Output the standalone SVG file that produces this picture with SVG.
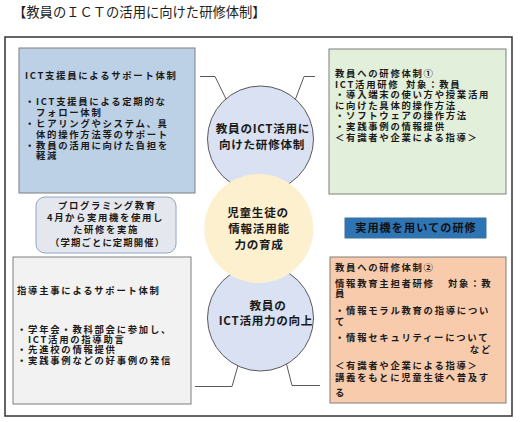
<svg xmlns="http://www.w3.org/2000/svg" width="520" height="422" viewBox="0 0 520 422">
<style>
.t{font-family:"Noto Sans CJK JP","Noto Sans CJK SC",sans-serif;font-weight:700;font-size:9.4px;letter-spacing:1.7px;fill:#1a1a1a}
.c{font-size:11.6px;letter-spacing:0.7px;text-anchor:middle}
.box{stroke:#7f7f7f;stroke-width:1}
.lead{fill:none;stroke:#595959;stroke-width:1}
.circ{fill:#d9e1f2;stroke:#595959;stroke-width:1}
</style>
<rect width="520" height="422" fill="#ffffff"/>
<text x="13" y="17" style="font-family:'Liberation Serif','Noto Sans CJK JP',serif;font-size:13.3px;fill:#222">【教員のＩＣＴの活用に向けた研修体制】</text>
<rect id="frame" x="5" y="37" width="507" height="379" fill="none" stroke="#333" stroke-width="1.5"/>

<g id="connectors">
<polyline class="lead" points="200,76.5 215,76.5 228,103"/>
<polyline class="lead" points="315,76.5 304,76.5 294,103"/>
<polyline class="lead" points="195,386.5 232,386.5 239,362"/>
<polyline class="lead" points="320,385.5 292,385.5 286,362"/>
</g>

<g id="n-ict-support">
<rect class="box" x="19" y="48" width="176" height="145" fill="#bcd0e6"/>
<text class="t" x="25" y="78.8">ICT支援員によるサポート体制</text>
<text class="t" x="25" y="105.3">・ICT支援員による定期的な</text>
<text class="t" x="36" y="116.1">フォロー体制</text>
<text class="t" x="25" y="126.9">・ヒアリングやシステム、具</text>
<text class="t" x="36" y="137.7">体的操作方法等のサポート</text>
<text class="t" x="25" y="148.5">・教員の活用に向けた負担を</text>
<text class="t" x="36" y="159.3">軽減</text>
</g>

<g id="n-programming">
<rect x="36" y="197" width="140" height="56" rx="9" fill="#e4e7ee" stroke="#8ea5c8" stroke-width="1"/>
<text class="t" x="58" y="208.8" style="letter-spacing:1.6px">プログラミング教育</text>
<text class="t" x="47" y="221" style="letter-spacing:1.6px">4月から実用機を使用し</text>
<text class="t" x="73" y="233.2" style="letter-spacing:1.6px">た研修を実施</text>
<text class="t" x="50" y="245.8" style="letter-spacing:1.1px">（学期ごとに定期開催）</text>
</g>

<g id="n-supervisor">
<rect class="box" x="13" y="257" width="178" height="147" fill="#f2f2f2"/>
<text class="t" x="17" y="293.8">指導主事によるサポート体制</text>
<text class="t" x="17" y="332.8">・学年会・教科部会に参加し、</text>
<text class="t" x="28" y="343.1">ICT活用の指導助言</text>
<text class="t" x="17" y="353.4">・先進校の情報提供</text>
<text class="t" x="17" y="363.7">・実践事例などの好事例の発信</text>
</g>

<g id="n-training1">
<rect class="box" x="329" y="49" width="177" height="145" fill="#e2efda"/>
<text class="t" x="335" y="76.8">教員への研修体制①</text>
<text class="t" x="335" y="87.6">ICT活用研修<tspan x="406">対象：教員</tspan></text>
<text class="t" x="335" y="98.1">・導入端末の使い方や授業活用</text>
<text class="t" x="335" y="108.6">に向けた具体的操作方法</text>
<text class="t" x="335" y="119.4">・ソフトウェアの操作方法</text>
<text class="t" x="335" y="130.4">・実践事例の情報提供</text>
<text class="t" x="335" y="141.4">＜有識者や企業による指導＞</text>
</g>

<g id="n-practical">
<rect x="345" y="218" width="141" height="20" fill="#2e75b6" stroke="#41719c" stroke-width="1"/>
<text class="t" x="416" y="232.3" style="font-size:11.2px;letter-spacing:1px;text-anchor:middle;fill:#111">実用機を用いての研修</text>
</g>

<g id="n-training2">
<rect class="box" x="330" y="257" width="176" height="146" fill="#f8cbad"/>
<text class="t" x="335" y="270.6">教員への研修体制②</text>
<text class="t" x="335" y="286.6">情報教育主担者研修<tspan x="448">対象：教</tspan></text>
<text class="t" x="335" y="297.3">員</text>
<text class="t" x="335" y="313.9">・情報モラル教育の指導につい</text>
<text class="t" x="335" y="324.6">て</text>
<text class="t" x="335" y="341.3">・情報セキュリティーについて</text>
<text class="t" x="492" y="353.3" style="text-anchor:end">など</text>
<text class="t" x="335" y="368.9">＜有識者や企業による指導＞</text>
<text class="t" x="335" y="381.3">講義をもとに児童生徒へ普及す</text>
<text class="t" x="335" y="395.6">る</text>
</g>

<g id="n-circle-top">
<circle class="circ" cx="260.5" cy="139" r="53"/>
<text class="t c" x="263" y="133.1">教員のICT活用に</text>
<text class="t c" x="262" y="149.1">向けた研修体制</text>
</g>

<g id="n-circle-bottom">
<circle class="circ" cx="260.5" cy="318" r="53"/>
<text class="t c" x="268" y="309.7">教員の</text>
<text class="t c" x="266" y="324.8">ICT活用力の向上</text>
</g>

<g id="n-circle-center">
<circle cx="258.8" cy="228.5" r="54.5" fill="#fdf0cf"/>
<text class="t c" x="258" y="216.8">児童生徒の</text>
<text class="t c" x="259" y="233.3">情報活用能</text>
<text class="t c" x="259" y="249">力の育成</text>
</g>
</svg>
